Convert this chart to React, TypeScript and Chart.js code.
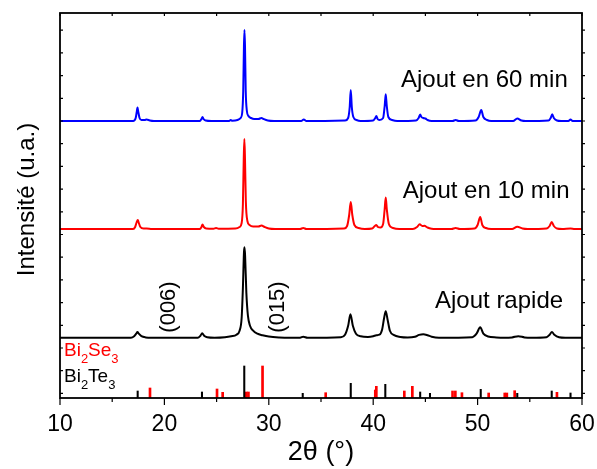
import { useEffect, useRef } from 'react';
import { Chart, registerables } from 'chart.js';

Chart.register(...registerables);

// ---- Data (2θ in degrees, intensity in arbitrary units) ----
const X_TICKS = [10, 20, 30, 40, 50, 60];
const TRACE_NAMES = ['Ajout rapide', 'Ajout en 10 min', 'Ajout en 60 min'];
const TRACE_COLORS = ['#000000', '#ff0000', '#0000ff'];
const TRACE_OFFSETS = [60.3, 169, 277];

const RAPIDE: [number, number][] = [
  [10, 0], [16.8, 0], [17.1, 1.5], [17.3, 4], [17.42, 5.7], [17.55, 4], [17.8, 1.5], [18.2, 0.3], [18.8, 0],
  [23.2, 0], [23.45, 2], [23.62, 4.4], [23.8, 2], [24.1, 0.5], [24.8, 0],
  [25.8, 0.5], [26.4, 1.5], [26.9, 3], [27.2, 7], [27.4, 20], [27.52, 50], [27.62, 85], [27.67, 90.4],
  [27.73, 82], [27.85, 45], [28.0, 22], [28.2, 12], [28.5, 7], [28.9, 4], [29.4, 2.5], [30, 1.2], [31, 0.3], [32, 0],
  [33.0, 0], [33.3, 1], [33.7, 0],
  [36.9, 0.5], [37.3, 3], [37.6, 12], [37.82, 23.4], [38.05, 12], [38.35, 4], [38.8, 1.5], [39.5, 0.8],
  [40.0, 1.5], [40.3, 2.5], [40.6, 3], [40.85, 8], [41.05, 20], [41.2, 26.4], [41.38, 18], [41.6, 7],
  [42.0, 2.5], [42.6, 0.8], [43.3, 0.3],
  [44.0, 1], [44.4, 2.8], [44.8, 3.4], [45.2, 2.5], [45.6, 1], [46.3, 0],
  [49.5, 0.5], [49.9, 4], [50.25, 10.4], [50.55, 4], [51.0, 1.2], [51.8, 0.3], [52.5, 0],
  [53.3, 0.3], [53.9, 1.5], [54.5, 0.3], [55.2, 0],
  [56.6, 0.5], [56.9, 3], [57.12, 5.7], [57.35, 3], [57.8, 0.5], [58.4, 0], [60, 0],
];

const MIN10: [number, number][] = [
  [10, 0], [17.0, 0], [17.2, 2], [17.35, 7], [17.45, 9], [17.55, 6], [17.7, 2], [18.0, 0.5], [18.3, 0.5], [18.8, 0],
  [23.4, 0], [23.55, 2], [23.65, 4.5], [23.78, 2], [24.0, 0.5], [24.7, 0.3], [24.95, 1], [25.2, 0.3],
  [26.8, 0.5], [27.2, 2], [27.4, 6], [27.52, 25], [27.6, 70], [27.66, 90], [27.72, 70], [27.8, 28],
  [27.95, 8], [28.15, 4], [28.5, 2.5], [29.0, 2.5], [29.3, 3.5], [29.6, 2], [30.0, 0.5], [30.6, 0],
  [33.0, 0], [33.3, 1], [33.6, 0],
  [37.2, 0.5], [37.5, 3], [37.7, 14], [37.85, 27], [38.0, 14], [38.2, 4], [38.6, 1], [39.2, 0],
  [39.9, 0.5], [40.15, 3], [40.3, 4], [40.45, 2], [40.7, 1.5], [40.95, 5], [41.1, 20], [41.2, 31.5],
  [41.3, 20], [41.5, 5], [41.9, 1], [42.5, 0],
  [43.8, 0], [44.2, 2], [44.45, 4.7], [44.7, 3], [44.9, 3.2], [45.2, 1.5], [45.6, 0.3], [46, 0],
  [47.5, 0], [47.9, 1], [48.3, 0],
  [49.7, 0.5], [50.0, 4], [50.25, 12], [50.45, 4], [50.8, 1], [51.3, 0],
  [53.3, 0], [53.8, 2.3], [54.3, 0.5], [54.8, 0],
  [56.6, 0.5], [56.9, 3], [57.1, 7], [57.3, 3], [57.6, 0.5], [58.1, 0], [58.9, 0.5], [59.3, 0], [60, 0],
];

const MIN60: [number, number][] = [
  [10, 0], [17.0, 0], [17.25, 3], [17.35, 9], [17.42, 13.5], [17.5, 9], [17.62, 3], [17.8, 1], [18.1, 1],
  [18.3, 1.5], [18.6, 0.5], [19, 0],
  [23.4, 0], [23.55, 2], [23.65, 4], [23.75, 2], [23.95, 0.5], [24.5, 0],
  [26.2, 0], [26.35, 1], [26.5, 0.3],
  [27.0, 1], [27.3, 3], [27.45, 8], [27.55, 30], [27.62, 75], [27.67, 91], [27.72, 75], [27.79, 30],
  [27.9, 10], [28.05, 5], [28.3, 3], [28.6, 2], [29.0, 2], [29.3, 3], [29.5, 2], [29.9, 0.5], [30.5, 0],
  [33.1, 0], [33.35, 1.5], [33.6, 0],
  [37.3, 0.5], [37.6, 3], [37.75, 14], [37.85, 31], [37.95, 14], [38.1, 4], [38.4, 1], [38.8, 0],
  [40.0, 0.5], [40.2, 3], [40.3, 5], [40.42, 2], [40.6, 1], [40.95, 3], [41.1, 15], [41.2, 26.7],
  [41.3, 15], [41.45, 4], [41.8, 1], [42.3, 0],
  [44.1, 0.5], [44.35, 3], [44.5, 6.5], [44.62, 4], [44.8, 3], [45.0, 2.5], [45.2, 1], [45.6, 0],
  [47.6, 0], [47.9, 1], [48.2, 0],
  [49.8, 0.5], [50.1, 4], [50.35, 11], [50.55, 4], [50.9, 1], [51.3, 0],
  [53.4, 0], [53.8, 2.5], [54.2, 0.5], [54.6, 0],
  [56.8, 0.5], [57.0, 3], [57.15, 6.7], [57.3, 3], [57.6, 0.5], [58, 0],
  [58.7, 0], [58.9, 1.5], [59.1, 0], [60, 0],
];

const BI2TE3_POS = [17.44, 23.6, 27.65, 33.25, 37.85, 41.16, 44.5, 45.44, 50.3, 53.8, 57.1, 58.9];
const BI2TE3_INT = [7, 6, 32, 4.7, 14.7, 13.7, 6, 4.7, 8.7, 4.7, 7, 5];
const BI2SE3_POS = [18.62, 25.04, 25.58, 27.85, 28.05, 29.4, 35.45, 40.2, 40.3, 42.98, 43.75, 47.6, 47.87, 48.5, 51.06, 52.6, 52.8, 53.55, 57.6];
const BI2SE3_INT = [10, 9, 5.7, 6, 6, 32, 5.3, 8, 11.7, 7, 11.7, 7, 7, 5.3, 5, 5, 5, 7.3, 5.7];

const HKL_LABELS = ['(006)', '(015)'];

// ---- placement (data coords) ----
const HKL_ANCHORS = [[20.44, 91], [30.91, 91]];
const NAME_ANCHORS = [[45.92, 90], [42.83, 199.7], [42.66, 310.7]];

const FONT = '"Liberation Sans", Arial, Helvetica, sans-serif';

function drawSub(ctx: CanvasRenderingContext2D, x: number, y: number, parts: [string, boolean][], size: number, sub: number, color: string) {
  ctx.fillStyle = color;
  ctx.textAlign = 'left';
  ctx.textBaseline = 'alphabetic';
  let cx = x;
  for (const [t, isSub] of parts) {
    ctx.font = `${isSub ? sub : size}px ${FONT}`;
    ctx.fillText(t, cx, isSub ? y + 7 : y);
    cx += ctx.measureText(t).width;
  }
}

const overlay = {
  id: 'overlay',
  afterDatasetsDraw(chart: any) {
    const { ctx, chartArea: a, scales } = chart;
    const x = scales.x;
    const y = scales.y;
    ctx.save();
    ctx.strokeStyle = '#000';
    ctx.lineWidth = 1.8;
    ctx.strokeRect(a.left, a.top, a.right - a.left, a.bottom - a.top);
    ctx.lineWidth = 1.2;
    for (let v = 10; v <= 60; v += 5) {
      const px = x.getPixelForValue(v);
      const major = v % 10 === 0;
      ctx.beginPath();
      ctx.moveTo(px, a.bottom);
      ctx.lineTo(px, a.bottom + (major ? 7 : 4));
      ctx.moveTo(px, a.top);
      ctx.lineTo(px, a.top + 3);
      ctx.stroke();
    }
    for (let v = TRACE_OFFSETS[2] + 22.7 * 4; v > 2; v -= 22.7) {
      const py = y.getPixelForValue(v);
      if (py < a.top + 2 || py > a.bottom - 2) continue;
      ctx.beginPath();
      ctx.moveTo(a.left, py);
      ctx.lineTo(a.left + 3, py);
      ctx.moveTo(a.right, py);
      ctx.lineTo(a.right + 3, py);
      ctx.stroke();
    }
    // trace names
    ctx.fillStyle = '#000';
    ctx.font = `24px ${FONT}`;
    ctx.textAlign = 'left';
    ctx.textBaseline = 'alphabetic';
    TRACE_NAMES.forEach((n, i) => {
      const [ax, ay] = NAME_ANCHORS[i];
      ctx.fillText(n, x.getPixelForValue(ax), y.getPixelForValue(ay));
    });
    // hkl labels
    ctx.font = `22px ${FONT}`;
    ctx.textAlign = 'center';
    ctx.textBaseline = 'middle';
    HKL_LABELS.forEach((t, i) => {
      const [ax, ay] = HKL_ANCHORS[i];
      ctx.save();
      ctx.translate(x.getPixelForValue(ax), y.getPixelForValue(ay));
      ctx.rotate(-Math.PI / 2);
      ctx.fillText(t, 0, 0);
      ctx.restore();
    });
    // phase names
    const lx = a.left + 4;
    drawSub(ctx, lx, y.getPixelForValue(42.3), [['Bi', false], ['2', true], ['Se', false], ['3', true]], 19, 13, '#ff0000');
    drawSub(ctx, lx, y.getPixelForValue(15.7), [['Bi', false], ['2', true], ['Te', false], ['3', true]], 19, 13, '#000000');
    // y title
    ctx.save();
    ctx.fillStyle = '#000';
    ctx.font = `24px ${FONT}`;
    ctx.textAlign = 'center';
    ctx.textBaseline = 'middle';
    ctx.translate(27, (a.top + a.bottom) / 2 - 6);
    ctx.rotate(-Math.PI / 2);
    ctx.fillText('Intensité (u.a.)', 0, 0);
    ctx.restore();
    ctx.restore();
  },
};

export default function App() {
  const ref = useRef<HTMLCanvasElement | null>(null);
  useEffect(() => {
    document.body.style.margin = '0';
    const canvas = ref.current!;
    const traces = [RAPIDE, MIN10, MIN60];
    const lineSets = traces.map((t, i) => ({
      type: 'line' as const,
      label: TRACE_NAMES[i],
      data: t.map(([xv, yv]) => ({ x: xv, y: yv + TRACE_OFFSETS[i] })),
      borderColor: TRACE_COLORS[i],
      borderWidth: 2,
      pointRadius: 0,
      cubicInterpolationMode: 'monotone' as const,
      fill: false,
    }));
    const chart = new Chart(canvas, {
      type: 'line',
      data: {
        datasets: [
          {
            type: 'bar',
            label: 'Bi2Te3',
            data: BI2TE3_POS.map((p, i) => ({ x: p, y: BI2TE3_INT[i] })),
            backgroundColor: '#000000',
            barThickness: 1.4,
            grouped: false,
          } as any,
          {
            type: 'bar',
            label: 'Bi2Se3',
            data: BI2SE3_POS.map((p, i) => ({ x: p, y: BI2SE3_INT[i] })),
            backgroundColor: '#ff0000',
            barThickness: 2,
            grouped: false,
          } as any,
          ...lineSets,
        ],
      },
      options: {
        animation: false,
        responsive: false,
        layout: { padding: { left: 60, right: 15, top: 13, bottom: 0 } },
        plugins: { legend: { display: false }, tooltip: { enabled: false } },
        scales: {
          x: {
            type: 'linear',
            min: 10,
            max: 60,
            offset: false,
            grid: { display: false, drawTicks: false, offset: false },
            border: { display: false },
            afterBuildTicks: (s: any) => {
              s.ticks = X_TICKS.map((v) => ({ value: v }));
            },
            ticks: {
              autoSkip: false,
              maxRotation: 0,
              padding: 13,
              color: '#000',
              font: { family: FONT, size: 23 },
            },
            title: {
              display: true,
              text: '2θ (°)',
              color: '#000',
              font: { family: FONT, size: 27 },
              padding: 0,
            },
            afterFit: (s: any) => {
              s.height = 71;
              s.paddingLeft = 0;
              s.paddingRight = 0;
            },
          },
          y: { type: 'linear', min: 0, max: 385, display: false },
        },
      } as any,
      plugins: [overlay],
    });
    return () => chart.destroy();
  }, []);
  return <canvas ref={ref} width={597} height={469} style={{ display: 'block' }} />;
}
